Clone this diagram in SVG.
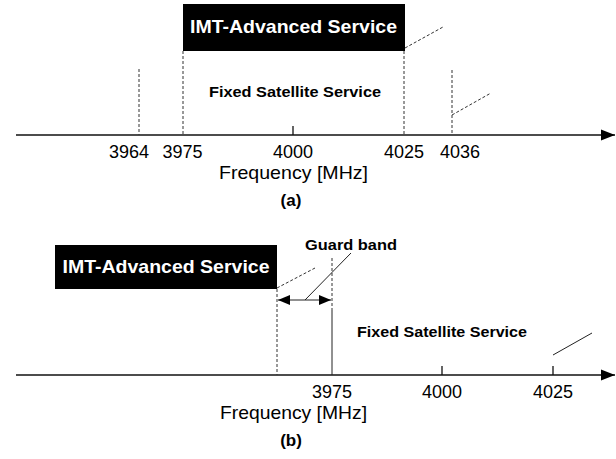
<svg xmlns="http://www.w3.org/2000/svg" width="616" height="459" viewBox="0 0 616 459">
<style>
.axis{stroke:#111;stroke-width:1.6;fill:none}
.dash{stroke:#333;stroke-width:1;stroke-dasharray:3,2;fill:none}
.thin{stroke:#222;stroke-width:1;fill:none}
.tick{stroke:#111;stroke-width:1.3}
.box{fill:#000}
.boxt{fill:#fff;font-family:"Liberation Sans",Arial,sans-serif;font-weight:bold;font-size:19px;text-anchor:middle}
.lbl{font-family:"Liberation Sans",Arial,sans-serif;font-size:18px;text-anchor:middle;fill:#000}
.freq{font-family:"Liberation Sans",Arial,sans-serif;font-size:19px;text-anchor:middle;fill:#000}
.bl{font-family:"Liberation Sans",Arial,sans-serif;font-weight:bold;font-size:15px;text-anchor:middle;fill:#000}
.cap{font-family:"Liberation Sans",Arial,sans-serif;font-weight:bold;font-size:17px;text-anchor:middle;fill:#000}
</style>
<defs>
<marker id="ah" markerWidth="14" markerHeight="12" refX="14" refY="6" orient="auto" markerUnits="userSpaceOnUse">
<path d="M0,0.5 L14,6 L0,11.5 Z" fill="#000"/>
</marker>
<marker id="gh" markerWidth="12" markerHeight="10" refX="12" refY="5" orient="auto-start-reverse" markerUnits="userSpaceOnUse">
<path d="M0,0 L12,5 L0,10 Z" fill="#000"/>
</marker>
</defs>

<!-- Panel (a) -->
<g id="imt-a">
<rect class="box" x="183" y="4" width="222" height="47"/>
<text class="boxt" x="293.5" y="33" textLength="207" lengthAdjust="spacingAndGlyphs">IMT-Advanced Service</text>
</g>
<g id="fss-a">
<text class="bl" x="295" y="97" textLength="172" lengthAdjust="spacingAndGlyphs">Fixed Satellite Service</text>
</g>
<g id="connectors-a">
<line class="axis" x1="16" y1="135" x2="615" y2="135" marker-end="url(#ah)"/>
<line class="dash" x1="183" y1="51" x2="183" y2="135"/>
<line class="dash" x1="404" y1="51" x2="404" y2="135"/>
<line class="dash" x1="139" y1="69" x2="139" y2="135"/>
<line class="dash" x1="452" y1="70" x2="452" y2="135"/>
<line class="tick" x1="293" y1="126" x2="293" y2="135"/>
<line class="dash" x1="405" y1="48" x2="443" y2="27"/>
<line class="dash" x1="452" y1="115" x2="491" y2="93"/>
</g>
<g id="ticks-a">
<text class="lbl" x="129" y="158">3964</text>
<text class="lbl" x="182.5" y="158">3975</text>
<text class="lbl" x="293" y="158">4000</text>
<text class="lbl" x="404" y="158">4025</text>
<text class="lbl" x="460" y="158">4036</text>
<text class="freq" x="293.5" y="179" textLength="149" lengthAdjust="spacingAndGlyphs">Frequency [MHz]</text>
<text class="cap" x="291" y="206">(a)</text>
</g>

<!-- Panel (b) -->
<g id="imt-b">
<rect class="box" x="55" y="245" width="222" height="44"/>
<text class="boxt" x="166" y="273" textLength="207" lengthAdjust="spacingAndGlyphs">IMT-Advanced Service</text>
</g>
<g id="guard-b">
<text class="bl" x="351" y="250" textLength="92" lengthAdjust="spacingAndGlyphs">Guard band</text>
</g>
<g id="fss-b">
<text class="bl" x="442" y="337" textLength="170" lengthAdjust="spacingAndGlyphs">Fixed Satellite Service</text>
</g>
<g id="connectors-b">
<line class="axis" x1="16" y1="375" x2="615" y2="375" marker-end="url(#ah)"/>
<line class="dash" x1="277" y1="289" x2="277" y2="375"/>
<line class="dash" x1="332" y1="258" x2="332" y2="310"/>
<line class="thin" x1="332" y1="310" x2="332" y2="375"/>
<line class="thin" x1="278" y1="300" x2="331" y2="300" marker-start="url(#gh)" marker-end="url(#gh)"/>
<line class="thin" x1="351" y1="253" x2="305" y2="300"/>
<line class="dash" x1="277" y1="288" x2="315" y2="268"/>
<line class="tick" x1="442" y1="366" x2="442" y2="375"/>
<line class="tick" x1="553" y1="366" x2="553" y2="375"/>
<line class="thin" x1="553" y1="355" x2="592" y2="333"/>
</g>
<g id="ticks-b">
<text class="lbl" x="332" y="398">3975</text>
<text class="lbl" x="442" y="398">4000</text>
<text class="lbl" x="553" y="398">4025</text>
<text class="freq" x="293.5" y="419" textLength="147" lengthAdjust="spacingAndGlyphs">Frequency [MHz]</text>
<text class="cap" x="291" y="446">(b)</text>
</g>
</svg>
